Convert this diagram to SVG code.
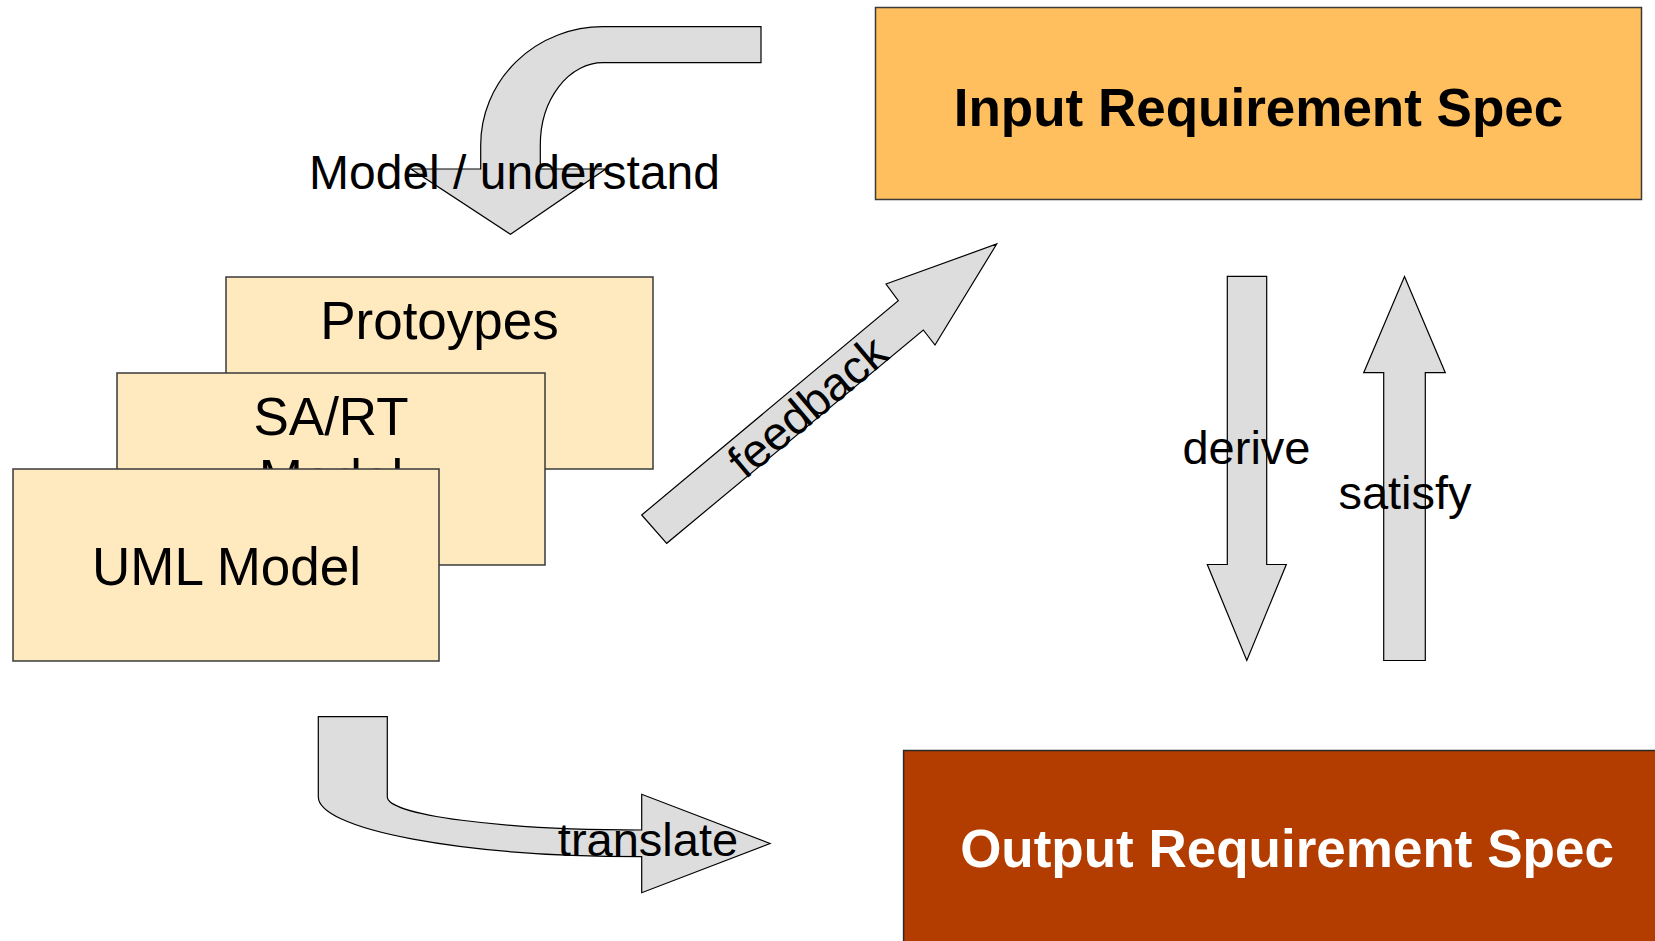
<svg xmlns="http://www.w3.org/2000/svg" width="1655" height="941" viewBox="0 0 1655 941">
<style>
.bg{fill:#ffffff}
.model{fill:#FFE9BF;stroke:#3a3a3a;stroke-width:1.5}
.arrow{fill:#DDDDDD;stroke:#000000;stroke-width:1.2;stroke-linejoin:miter}
.ntxt{font-family:"Liberation Sans",Arial,sans-serif;font-size:53px;fill:#000;text-anchor:middle}
.btxt{font-family:"Liberation Sans",Arial,sans-serif;font-size:53px;font-weight:bold;text-anchor:middle}
.ltxt{font-family:"Liberation Sans",Arial,sans-serif;font-size:47px;fill:#000;text-anchor:middle}
</style>
<rect class="bg" x="0" y="0" width="1655" height="941"/>
<g id="node-input">
<rect x="875.5" y="7.5" width="766" height="192" fill="#FFBF5F" stroke="#3a3a3a" stroke-width="1.5"/>
<text class="btxt" x="1258.5" y="126" fill="#000000">Input Requirement Spec</text>
</g>
<g id="node-output">
<rect x="903.6" y="750.5" width="766" height="192" fill="#B33D00" stroke="#2a2a2a" stroke-width="1.5"/>
<text class="btxt" x="1287" y="867" fill="#FFFFFF">Output Requirement Spec</text>
</g>
<g id="node-prototypes">
<rect class="model" x="226" y="277" width="427" height="192"/>
<text class="ntxt" x="439.5" y="339">Protoypes</text>
</g>
<g id="node-sart">
<rect class="model" x="117" y="373" width="428" height="192"/>
<text class="ntxt" x="331" y="435">SA/RT</text>
<text class="ntxt" x="331" y="497">Model</text>
</g>
<g id="node-uml">
<rect class="model" x="13" y="469" width="426" height="192"/>
<text class="ntxt" x="226.5" y="585">UML Model</text>
</g>
<g id="connectors">
<g id="arrow-model">
<path class="arrow" d="M 761 26.7 L 603 26.7 A 122.3 118.3 0 0 0 480.7 145 L 480.7 169 L 411 169 L 510.5 234.3 L 605.7 169 L 540.3 169 L 540.3 145 A 62.7 82.3 0 0 1 603 62.7 L 761 62.7 Z"/>
<text class="ltxt" x="514.5" y="189" style="font-size:48px">Model / understand</text>
</g>
<g id="arrow-feedback">
<polygon class="arrow" points="641.7,515 898.3,300.7 886,284 996.7,244 935,345 923.3,330 666.7,543.3"/>
<text class="ltxt" x="0" y="0" transform="translate(818,419) rotate(-40)">feedback</text>
</g>
<g id="arrow-translate">
<path class="arrow" d="M 318.3 716.7 L 387.3 716.7 L 387.3 796.7 A 254.4 33.3 0 0 0 641.7 830 L 641.7 794.3 L 770 843.5 L 641.7 892.7 L 641.7 856.7 A 323.4 60 0 0 1 318.3 796.7 Z"/>
<text class="ltxt" x="648" y="856">translate</text>
</g>
<g id="arrow-derive">
<polygon class="arrow" points="1227.3,276.3 1266.7,276.3 1266.7,564.5 1286.3,564.5 1246.8,660.5 1207.3,564.5 1227.3,564.5"/>
<text class="ltxt" x="1246.5" y="464">derive</text>
</g>
<g id="arrow-satisfy">
<polygon class="arrow" points="1404.5,276.5 1445.3,372.7 1425.3,372.7 1425.3,660.5 1383.7,660.5 1383.7,372.7 1363.7,372.7"/>
<text class="ltxt" x="1405" y="509">satisfy</text>
</g>
</g>
</svg>
